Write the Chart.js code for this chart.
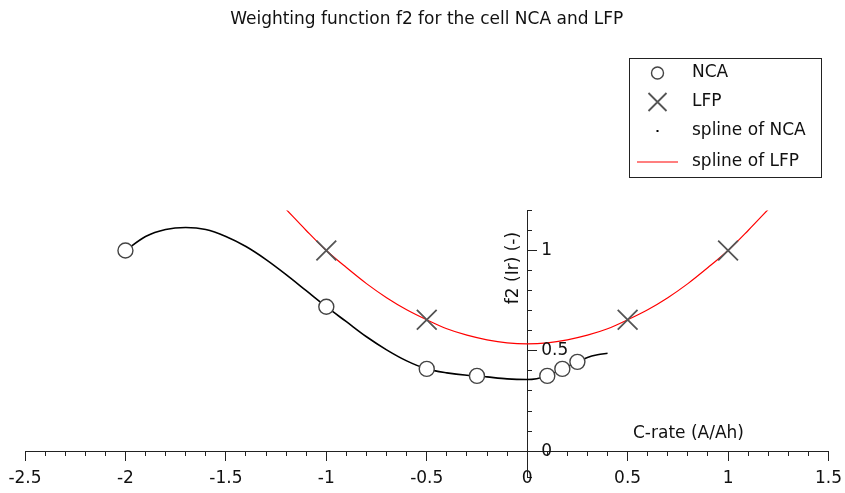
<!DOCTYPE html>
<html>
<head>
<meta charset="utf-8">
<script src="https://cdn.jsdelivr.net/npm/chart.js@4.4.1/dist/chart.umd.min.js"></script>
<style>
  html, body { margin: 0; padding: 0; background: #fff; }
  #wrap { width: 845px; height: 493px; }
</style>
</head>
<body>
<div id="wrap"><canvas id="f2Chart" width="845" height="493"></canvas></div>
<script>
(function() {
  "use strict";

  // measured points (C-rate in A/Ah, f2)
  const ncaRates = [-2, -1, -0.5, -0.25, 0.1, 0.175, 0.25];
  const ncaValues = [1.0, 0.72, 0.41, 0.375, 0.375, 0.41, 0.445];
  const lfpRates = [-1, -0.5, 0.5, 1];
  const lfpValues = [1.0, 0.655, 0.655, 1.0];

  // spline curves
  const ncaSplineRates = [-2, -1.9, -1.8, -1.7, -1.6, -1.5, -1.4, -1.3, -1.2, -1.1, -1, -0.9, -0.8, -0.7, -0.6, -0.5, -0.4, -0.3, -0.25, -0.2, -0.1, 0, 0.1, 0.175, 0.25, 0.3, 0.35, 0.4];
  const ncaSplineValues = [1.0, 1.07, 1.105, 1.115, 1.105, 1.07, 1.02, 0.955, 0.88, 0.80, 0.72, 0.645, 0.57, 0.505, 0.45, 0.41, 0.39, 0.378, 0.375, 0.37, 0.36, 0.357, 0.375, 0.41, 0.445, 0.467, 0.48, 0.488];
  const lfpSplineRates = [-1.2, -1.1, -1, -0.9, -0.8, -0.7, -0.6, -0.5, -0.4, -0.3, -0.2, -0.1, 0, 0.1, 0.2, 0.3, 0.4, 0.5, 0.6, 0.7, 0.8, 0.9, 1, 1.1, 1.2];
  const lfpSplineValues = [1.205, 1.10, 1.0, 0.915, 0.835, 0.765, 0.705, 0.655, 0.61, 0.578, 0.555, 0.54, 0.535, 0.54, 0.555, 0.578, 0.61, 0.655, 0.705, 0.765, 0.835, 0.915, 1.0, 1.10, 1.205];

  const xTickValues = [-2.5, -2, -1.5, -1, -0.5, 0, 0.5, 1, 1.5];
  const yTickValues = [0, 0.5, 1];
  const seriesLabels = ["NCA", "LFP", "spline of NCA", "spline of LFP"];

  const X_MIN = -2.5, X_MAX = 1.5;
  const Y_MIN = -0.13, Y_MAX = 1.2;

  const FONT_FAMILY = "'DejaVu Sans', sans-serif";
  const FONT = "17px " + FONT_FAMILY;
  const INK = "#111";
  const AXIS = "#222";
  const MARK = "#444";

  const points = (xs, ys) => xs.map((x, i) => ({ x, y: ys[i] }));
  // end labels may hang over the plot edge, as in the original
  const noSidePadding = scale => { scale.paddingLeft = 0; scale.paddingRight = 0; };

  // y tick labels, axis names and the boxed legend
  const annotations = {
    id: "annotations",
    afterDraw(chart) {
      const { ctx, scales: { x, y } } = chart;
      const x0 = x.getPixelForValue(0);
      ctx.save();
      ctx.font = FONT;
      ctx.fillStyle = INK;
      ctx.textBaseline = "middle";
      ctx.textAlign = "left";
      yTickValues.forEach(v => ctx.fillText(String(v), x0 + 14, y.getPixelForValue(v)));
      ctx.fillText("C-rate (A/Ah)", 633, 434);

      ctx.save();
      ctx.translate(x0 - 14, 268);
      ctx.rotate(-Math.PI / 2);
      ctx.textAlign = "center";
      ctx.fillText("f2 (Ir) (-)", 0, 0);
      ctx.restore();

      // legend
      ctx.strokeStyle = AXIS;
      ctx.lineWidth = 1;
      ctx.strokeRect(629.5, 58.5, 192, 119);
      const rows = [73, 102, 131, 162];
      const mx = 657.5;

      ctx.beginPath();
      ctx.arc(mx, rows[0], 6, 0, Math.PI * 2);
      ctx.fillStyle = "#fff";
      ctx.fill();
      ctx.strokeStyle = MARK;
      ctx.lineWidth = 1.4;
      ctx.stroke();

      ctx.beginPath();
      ctx.moveTo(mx - 9, rows[1] - 9); ctx.lineTo(mx + 9, rows[1] + 9);
      ctx.moveTo(mx + 9, rows[1] - 9); ctx.lineTo(mx - 9, rows[1] + 9);
      ctx.strokeStyle = "#555";
      ctx.lineWidth = 1.8;
      ctx.stroke();

      ctx.fillStyle = "#000";
      ctx.fillRect(mx - 1, rows[2] - 1, 2, 2);

      ctx.beginPath();
      ctx.moveTo(637, rows[3]); ctx.lineTo(678, rows[3]);
      ctx.strokeStyle = "#ff0000";
      ctx.lineWidth = 1.2;
      ctx.stroke();

      ctx.fillStyle = INK;
      chart.data.datasets.forEach((ds, i) => ctx.fillText(ds.label, 692, rows[i]));
      ctx.restore();
    }
  };

  Chart.defaults.color = INK;
  Chart.defaults.font.family = FONT_FAMILY;
  Chart.defaults.font.size = 17;

  new Chart(document.getElementById("f2Chart"), {
    type: "scatter",
    data: {
      datasets: [
        {
          label: seriesLabels[0],
          data: points(ncaRates, ncaValues),
          showLine: false,
          pointStyle: "circle",
          pointRadius: 7.5,
          pointBorderWidth: 1.4,
          pointBorderColor: MARK,
          pointBackgroundColor: "#fff"
        },
        {
          label: seriesLabels[1],
          data: points(lfpRates, lfpValues),
          showLine: false,
          pointStyle: "crossRot",
          pointRadius: 14,
          pointBorderWidth: 1.8,
          pointBorderColor: "#555",
          pointBackgroundColor: "#555"
        },
        {
          label: seriesLabels[2],
          data: points(ncaSplineRates, ncaSplineValues),
          showLine: true,
          pointRadius: 0,
          borderColor: "#000",
          borderWidth: 1.6,
          cubicInterpolationMode: "monotone"
        },
        {
          label: seriesLabels[3],
          data: points(lfpSplineRates, lfpSplineValues),
          showLine: true,
          pointRadius: 0,
          borderColor: "#ff0000",
          borderWidth: 1.2,
          cubicInterpolationMode: "monotone"
        }
      ]
    },
    options: {
      responsive: false,
      animation: false,
      events: [],
      layout: { padding: { left: 25, right: 16.5, top: 0, bottom: 2 } },
      plugins: {
        legend: { display: false },
        tooltip: { enabled: false },
        title: {
          display: true,
          text: "Weighting function f2 for the cell NCA and LFP",
          color: INK,
          font: { size: 17, weight: "normal", lineHeight: 1.2 },
          padding: { top: 9, bottom: 181 }
        }
      },
      scales: {
        x: {
          type: "linear",
          axis: "x",
          position: { y: 0 },
          min: X_MIN,
          max: X_MAX,
          afterBuildTicks: scale => { scale.ticks = xTickValues.map(value => ({ value })); },
          afterFit: noSidePadding,
          ticks: { callback: value => String(value), autoSkip: false, maxRotation: 0, padding: 8, color: INK },
          grid: { drawOnChartArea: false, tickLength: 9, tickColor: AXIS, tickWidth: 1 },
          border: { color: AXIS, width: 1 }
        },
        xMinor: {
          type: "linear",
          axis: "x",
          position: { y: 0 },
          min: X_MIN,
          max: X_MAX,
          afterFit: noSidePadding,
          ticks: { display: false, stepSize: 0.1 },
          grid: { drawOnChartArea: false, tickLength: 5, tickColor: AXIS, tickWidth: 1 },
          border: { display: false }
        },
        y: {
          type: "linear",
          axis: "y",
          position: { x: 0 },
          min: Y_MIN,
          max: Y_MAX,
          afterBuildTicks: scale => { scale.ticks = yTickValues.map(value => ({ value })); },
          ticks: { display: false },
          grid: { drawOnChartArea: false, tickLength: -10, tickColor: AXIS, tickWidth: 1 },
          border: { color: AXIS, width: 1 }
        },
        yMinor: {
          type: "linear",
          axis: "y",
          position: { x: 0 },
          min: Y_MIN,
          max: Y_MAX,
          ticks: { display: false, stepSize: 0.1 },
          grid: { drawOnChartArea: false, tickLength: -5, tickColor: AXIS, tickWidth: 1 },
          border: { display: false }
        }
      }
    },
    plugins: [annotations]
  });
})();
</script>
</body>
</html>
